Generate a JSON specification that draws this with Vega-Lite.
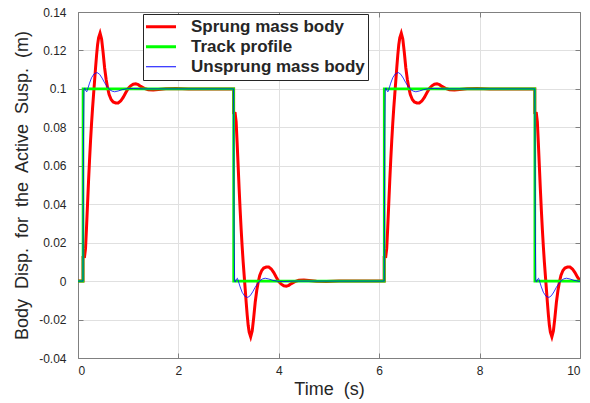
{
"$schema": "https://vega.github.io/schema/vega-lite/v6.json",
"autosize": {"type": "none"},
"padding": {"left": 78, "top": 12, "right": 10, "bottom": 45},
"width": 502,
"height": 346,
"background": "white",
"config": {
  "view": {"stroke": null},
  "axis": {"labelFont": "Liberation Sans", "labelFontSize": 12, "labelColor": "#262626", "titleFont": "Liberation Sans", "titleFontSize": 18, "titleFontWeight": "normal", "titleColor": "#262626", "domainColor": "#808080", "tickColor": "#808080", "gridColor": "#e0e0e0", "tickSize": -5}
},
"datasets": {
  "red": [
{"t":0,"v":0},{"t":0.1,"v":0},{"t":0.1,"v":0.0125},{"t":0.13,"v":0.0127},{"t":0.15,"v":0.017},{"t":0.17,"v":0.028},{"t":0.19,"v":0.04},{"t":0.21,"v":0.052},{"t":0.23,"v":0.063},{"t":0.25,"v":0.073},{"t":0.27,"v":0.082},{"t":0.29,"v":0.09},{"t":0.31,"v":0.097},{"t":0.33,"v":0.104},{"t":0.35,"v":0.111},{"t":0.37,"v":0.1175},{"t":0.39,"v":0.123},{"t":0.41,"v":0.1265},{"t":0.44,"v":0.129},{"t":0.47,"v":0.126},{"t":0.5,"v":0.119},{"t":0.53,"v":0.111},{"t":0.56,"v":0.105},{"t":0.59,"v":0.1005},{"t":0.62,"v":0.097},{"t":0.66,"v":0.0945},{"t":0.7,"v":0.0932},{"t":0.75,"v":0.0927},{"t":0.8,"v":0.0927},{"t":0.85,"v":0.0937},{"t":0.9,"v":0.0956},{"t":0.95,"v":0.098},{"t":1,"v":0.1002},{"t":1.05,"v":0.1016},{"t":1.1,"v":0.1024},{"t":1.15,"v":0.1026},{"t":1.2,"v":0.1022},{"t":1.25,"v":0.1013},{"t":1.32,"v":0.1003},{"t":1.4,"v":0.0996},{"t":1.5,"v":0.0994},{"t":1.6,"v":0.0997},{"t":1.75,"v":0.1001},{"t":1.95,"v":0.1002},{"t":2.2,"v":0.1},{"t":3.1,"v":0.1},
{"t":3.1,"v":0.0875},{"t":3.13,"v":0.0873},{"t":3.15,"v":0.083},{"t":3.17,"v":0.072},{"t":3.19,"v":0.06},{"t":3.21,"v":0.048},{"t":3.23,"v":0.037},{"t":3.25,"v":0.027},{"t":3.27,"v":0.018},{"t":3.29,"v":0.01},{"t":3.31,"v":0.003},{"t":3.33,"v":-0.004},{"t":3.35,"v":-0.011},{"t":3.37,"v":-0.0175},{"t":3.39,"v":-0.023},{"t":3.41,"v":-0.0265},{"t":3.44,"v":-0.029},{"t":3.47,"v":-0.026},{"t":3.5,"v":-0.019},{"t":3.53,"v":-0.011},{"t":3.56,"v":-0.005},{"t":3.59,"v":-0.0005},{"t":3.62,"v":0.003},{"t":3.66,"v":0.0055},{"t":3.7,"v":0.0068},{"t":3.75,"v":0.0073},{"t":3.8,"v":0.0073},{"t":3.85,"v":0.0063},{"t":3.9,"v":0.0044},{"t":3.95,"v":0.002},{"t":4,"v":-0.0002},{"t":4.05,"v":-0.0016},{"t":4.1,"v":-0.0024},{"t":4.15,"v":-0.0026},{"t":4.2,"v":-0.0022},{"t":4.25,"v":-0.0013},{"t":4.32,"v":-0.0003},{"t":4.4,"v":0.0004},{"t":4.5,"v":0.0006},{"t":4.6,"v":0.0003},{"t":4.75,"v":-0.0001},{"t":4.95,"v":-0.0002},{"t":5.2,"v":0},{"t":6.1,"v":0},
{"t":6.1,"v":0.0125},{"t":6.13,"v":0.0127},{"t":6.15,"v":0.017},{"t":6.17,"v":0.028},{"t":6.19,"v":0.04},{"t":6.21,"v":0.052},{"t":6.23,"v":0.063},{"t":6.25,"v":0.073},{"t":6.27,"v":0.082},{"t":6.29,"v":0.09},{"t":6.31,"v":0.097},{"t":6.33,"v":0.104},{"t":6.35,"v":0.111},{"t":6.37,"v":0.1175},{"t":6.39,"v":0.123},{"t":6.41,"v":0.1265},{"t":6.44,"v":0.129},{"t":6.47,"v":0.126},{"t":6.5,"v":0.119},{"t":6.53,"v":0.111},{"t":6.56,"v":0.105},{"t":6.59,"v":0.1005},{"t":6.62,"v":0.097},{"t":6.66,"v":0.0945},{"t":6.7,"v":0.0932},{"t":6.75,"v":0.0927},{"t":6.8,"v":0.0927},{"t":6.85,"v":0.0937},{"t":6.9,"v":0.0956},{"t":6.95,"v":0.098},{"t":7,"v":0.1002},{"t":7.05,"v":0.1016},{"t":7.1,"v":0.1024},{"t":7.15,"v":0.1026},{"t":7.2,"v":0.1022},{"t":7.25,"v":0.1013},{"t":7.32,"v":0.1003},{"t":7.4,"v":0.0996},{"t":7.5,"v":0.0994},{"t":7.6,"v":0.0997},{"t":7.75,"v":0.1001},{"t":7.95,"v":0.1002},{"t":8.2,"v":0.1},{"t":9.1,"v":0.1},
{"t":9.1,"v":0.0875},{"t":9.13,"v":0.0873},{"t":9.15,"v":0.083},{"t":9.17,"v":0.072},{"t":9.19,"v":0.06},{"t":9.21,"v":0.048},{"t":9.23,"v":0.037},{"t":9.25,"v":0.027},{"t":9.27,"v":0.018},{"t":9.29,"v":0.01},{"t":9.31,"v":0.003},{"t":9.33,"v":-0.004},{"t":9.35,"v":-0.011},{"t":9.37,"v":-0.0175},{"t":9.39,"v":-0.023},{"t":9.41,"v":-0.0265},{"t":9.44,"v":-0.029},{"t":9.47,"v":-0.026},{"t":9.5,"v":-0.019},{"t":9.53,"v":-0.011},{"t":9.56,"v":-0.005},{"t":9.59,"v":-0.0005},{"t":9.62,"v":0.003},{"t":9.66,"v":0.0055},{"t":9.7,"v":0.0068},{"t":9.75,"v":0.0073},{"t":9.8,"v":0.0073},{"t":9.85,"v":0.0063},{"t":9.9,"v":0.0044},{"t":9.95,"v":0.002},{"t":10,"v":0.0003}
  ],
  "green": [
{"t":0,"v":0},{"t":0.1,"v":0},{"t":0.1,"v":0.1},{"t":3.1,"v":0.1},{"t":3.1,"v":0},{"t":6.1,"v":0},{"t":6.1,"v":0.1},{"t":9.1,"v":0.1},{"t":9.1,"v":0},{"t":10,"v":0}
  ],
  "blue": [
{"t":0,"v":0},{"t":0.1,"v":0},{"t":0.11,"v":0.075},{"t":0.12,"v":0.1},{"t":0.135,"v":0.1005},{"t":0.155,"v":0.099},{"t":0.175,"v":0.0985},{"t":0.2,"v":0.1005},{"t":0.23,"v":0.103},{"t":0.27,"v":0.1058},{"t":0.32,"v":0.1078},{"t":0.38,"v":0.1085},{"t":0.43,"v":0.1076},{"t":0.48,"v":0.1056},{"t":0.53,"v":0.1032},{"t":0.58,"v":0.1012},{"t":0.63,"v":0.0996},{"t":0.68,"v":0.0988},{"t":0.73,"v":0.0985},{"t":0.8,"v":0.0989},{"t":0.88,"v":0.0996},{"t":0.98,"v":0.1001},{"t":1.1,"v":0.1002},{"t":1.3,"v":0.1},{"t":3.1,"v":0.1},
{"t":3.11,"v":0.025},{"t":3.12,"v":0},{"t":3.135,"v":-0.0005},{"t":3.155,"v":0.001},{"t":3.175,"v":0.0015},{"t":3.2,"v":-0.0005},{"t":3.23,"v":-0.003},{"t":3.27,"v":-0.0058},{"t":3.32,"v":-0.0078},{"t":3.38,"v":-0.0085},{"t":3.43,"v":-0.0076},{"t":3.48,"v":-0.0056},{"t":3.53,"v":-0.0032},{"t":3.58,"v":-0.0012},{"t":3.63,"v":0.0004},{"t":3.68,"v":0.0012},{"t":3.73,"v":0.0015},{"t":3.8,"v":0.0011},{"t":3.88,"v":0.0004},{"t":3.98,"v":-0.0001},{"t":4.1,"v":-0.0002},{"t":4.3,"v":0},{"t":6.1,"v":0},
{"t":6.11,"v":0.075},{"t":6.12,"v":0.1},{"t":6.135,"v":0.1005},{"t":6.155,"v":0.099},{"t":6.175,"v":0.0985},{"t":6.2,"v":0.1005},{"t":6.23,"v":0.103},{"t":6.27,"v":0.1058},{"t":6.32,"v":0.1078},{"t":6.38,"v":0.1085},{"t":6.43,"v":0.1076},{"t":6.48,"v":0.1056},{"t":6.53,"v":0.1032},{"t":6.58,"v":0.1012},{"t":6.63,"v":0.0996},{"t":6.68,"v":0.0988},{"t":6.73,"v":0.0985},{"t":6.8,"v":0.0989},{"t":6.88,"v":0.0996},{"t":6.98,"v":0.1001},{"t":7.1,"v":0.1002},{"t":7.3,"v":0.1},{"t":9.1,"v":0.1},
{"t":9.11,"v":0.025},{"t":9.12,"v":0},{"t":9.135,"v":-0.0005},{"t":9.155,"v":0.001},{"t":9.175,"v":0.0015},{"t":9.2,"v":-0.0005},{"t":9.23,"v":-0.003},{"t":9.27,"v":-0.0058},{"t":9.32,"v":-0.0078},{"t":9.38,"v":-0.0085},{"t":9.43,"v":-0.0076},{"t":9.48,"v":-0.0056},{"t":9.53,"v":-0.0032},{"t":9.58,"v":-0.0012},{"t":9.63,"v":0.0004},{"t":9.68,"v":0.0012},{"t":9.73,"v":0.0015},{"t":9.8,"v":0.0011},{"t":9.88,"v":0.0004},{"t":9.98,"v":-0.0001},{"t":10,"v":-0.0001}
  ]
},
"resolve": {"axis": {"x": "independent", "y": "independent"}},
"layer": [
  {
    "data": {"name": "red"},
    "mark": {"type": "line", "strokeWidth": 3, "clip": true},
    "encoding": {
      "x": {"field": "t", "type": "quantitative", "scale": {"domain": [0, 10], "nice": false, "zero": false},
            "axis": {"orient": "bottom", "values": [0, 2, 4, 6, 8, 10], "grid": true, "title": "Time\u00a0 (s)", "labelPadding": 12, "titlePadding": 4}},
      "y": {"field": "v", "type": "quantitative", "scale": {"domain": [-0.04, 0.14], "nice": false, "zero": false},
            "axis": {"orient": "left", "values": [-0.04, -0.02, 0, 0.02, 0.04, 0.06, 0.08, 0.1, 0.12, 0.14], "grid": true, "labelExpr": "'' + datum.value", "labelPadding": 17, "titlePadding": 7,
                     "title": "Body\u00a0 Disp.\u00a0 for\u00a0 the\u00a0 Active\u00a0 Susp.\u00a0 (m)"}},
      "color": {"datum": "Sprung mass body", "type": "nominal",
                "scale": {"domain": ["Sprung mass body", "Track profile", "Unsprung mass body"], "range": ["#ff0000", "#00ff00", "#0000ff"]},
                "legend": {"orient": "none", "legendX": 65, "legendY": 2, "direction": "vertical", "title": null,
                           "symbolType": "stroke", "symbolSize": 1849, "symbolStrokeWidth": 3, "clipHeight": 19.5, "rowPadding": 0,
                           "padding": 3, "labelOffset": 28, "labelLimit": 400, "strokeColor": "#262626", "fillColor": "#ffffff",
                           "labelFont": "Liberation Sans", "labelFontSize": 17, "labelFontWeight": "bold", "labelColor": "#262626",
                           "encode": {"symbols": {"update": {"strokeWidth": {"signal": "datum.value === 'Unsprung mass body' ? 1 : 3"}}}}}}
    }
  },
  {
    "data": {"name": "green"},
    "mark": {"type": "line", "strokeWidth": 2.6, "clip": true},
    "encoding": {
      "x": {"field": "t", "type": "quantitative", "axis": null},
      "y": {"field": "v", "type": "quantitative", "axis": null},
      "color": {"datum": "Track profile", "type": "nominal"}
    }
  },
  {
    "data": {"name": "blue"},
    "mark": {"type": "line", "strokeWidth": 0.8, "clip": true},
    "encoding": {
      "x": {"field": "t", "type": "quantitative",
            "axis": {"orient": "top", "values": [0, 2, 4, 6, 8, 10], "labels": false, "title": null, "grid": false}},
      "y": {"field": "v", "type": "quantitative",
            "axis": {"orient": "right", "values": [-0.04, -0.02, 0, 0.02, 0.04, 0.06, 0.08, 0.1, 0.12, 0.14], "labels": false, "title": null, "grid": false}},
      "color": {"datum": "Unsprung mass body", "type": "nominal"}
    }
  }
]
}
